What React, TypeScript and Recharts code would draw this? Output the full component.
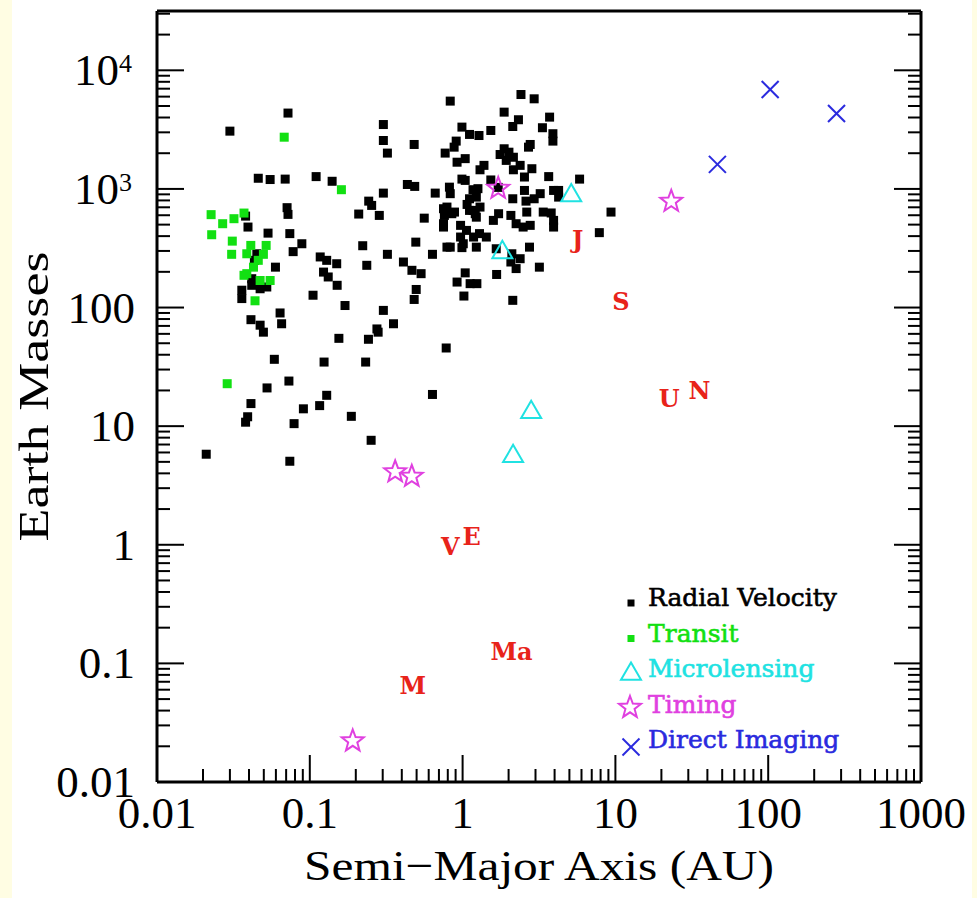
import { ScatterChart, Scatter, XAxis, YAxis, Legend } from 'recharts';

// semi-major axis (AU), mass (Earth masses)
const radialVelocity: [number, number][] = [
  [0.021, 5.8], [0.03, 3070], [0.072, 4360], [0.046, 1230], [0.055, 1200], [0.069, 1210],
  [0.11, 1270], [0.14, 1160], [0.243, 789], [0.254, 726], [0.209, 614], [0.285, 598],
  [0.038, 590], [0.0394, 477], [0.0533, 424], [0.071, 695], [0.072, 610], [0.074, 420],
  [0.0887, 345], [0.0778, 296], [0.0596, 219], [0.117, 267], [0.129, 250], [0.15, 234],
  [0.123, 199], [0.132, 181], [0.151, 154], [0.222, 332], [0.236, 227], [0.0359, 140],
  [0.0359, 119], [0.0417, 154], [0.0473, 144], [0.0523, 149], [0.0412, 79], [0.0473, 71],
  [0.0497, 62], [0.0639, 90], [0.0654, 73], [0.105, 127], [0.17, 104], [0.275, 66],
  [0.28, 62], [0.242, 54], [0.155, 55], [0.0586, 36.6], [0.124, 34.7], [0.232, 34.7],
  [0.0525, 21], [0.073, 24], [0.0412, 15.5], [0.0392, 12], [0.038, 10.8], [0.129, 18.2],
  [0.116, 14.9], [0.0908, 14], [0.0789, 10.5], [0.187, 12.1], [0.252, 7.6], [0.074, 5.06],
  [0.0434, 250], [0.0417, 175], [0.045, 284],
  [0.303, 3490], [0.303, 2560], [0.322, 2005], [0.482, 2370], [0.769, 2005], [0.435, 1090],
  [0.486, 1050], [0.303, 922], [0.662, 922], [0.561, 567], [0.75, 681], [0.76, 598],
  [0.75, 477], [0.79, 323], [0.494, 356], [0.322, 281], [0.635, 281], [0.41, 242],
  [0.466, 206], [0.535, 193], [0.497, 142], [0.482, 117], [0.303, 94.6], [0.353, 73],
  [0.781, 45.6], [0.635, 18.5],
  [0.83, 5500], [2.41, 6250], [2.94, 5750], [1.87, 4440], [2.32, 3830], [3.71, 4030],
  [2.13, 3360], [3.33, 3280], [3.9, 2920], [3.9, 2530], [0.99, 3320], [1.11, 2880],
  [1.28, 2820], [1.53, 3110], [0.908, 2530], [0.88, 2250], [0.92, 1680], [1.04, 1800],
  [1.87, 2180], [2.01, 2040], [2.15, 1850], [1.93, 1740], [1.76, 1950], [2.7, 2250],
  [2.77, 2370], [1.38, 1580], [1.3, 1450], [2.38, 1580], [2.15, 1450], [2.84, 1480],
  [2.54, 1260], [3.66, 1270], [0.99, 1210], [1.04, 1180], [1.53, 1190], [1.71, 1030],
  [0.82, 1035], [0.83, 912], [1.17, 985], [1.26, 1005], [1.11, 826], [1.23, 853],
  [2.54, 971], [3.22, 912], [3.94, 971], [2.13, 826], [2.6, 789], [2.94, 826],
  [0.79, 703], [0.885, 638], [1.07, 740], [1.11, 659], [1.21, 618], [1.3, 703],
  [1.72, 618], [2.07, 598], [2.63, 638], [3.37, 638], [3.8, 627],
  [0.85, 618], [0.75, 509], [0.97, 493], [1.17, 659], [1.23, 578], [1.06, 447],
  [0.97, 393], [1.18, 393], [1.29, 420], [1.43, 393], [1.01, 345], [1.23, 323],
  [0.83, 323], [1.59, 543], [2.24, 509], [2.49, 477], [2.77, 493], [3.94, 543],
  [3.94, 477], [1.66, 313], [2.1, 284], [2.38, 258], [2.24, 213], [2.07, 242],
  [2.74, 323], [3.18, 219], [1.67, 190], [1.04, 196], [0.92, 164], [1.12, 159],
  [1.24, 159], [1.02, 125], [2.13, 115], [0.99, 320],
  [5.83, 1210], [9.36, 638], [7.85, 428], [4.25, 971], [4.25, 853],
];

const transit: [number, number][] = [
  [0.068, 2730], [0.161, 985], [0.0226, 607], [0.0269, 509], [0.0319, 561], [0.0371, 626],
  [0.0228, 411], [0.0311, 363], [0.0308, 281], [0.0411, 334], [0.0387, 284], [0.0518, 334],
  [0.0497, 281], [0.046, 250], [0.0428, 219], [0.0387, 193], [0.0371, 187], [0.0473, 169],
  [0.055, 169], [0.0438, 114], [0.0288, 22.8],
];

const microlensing: [number, number][] = [[1.82, 292], [2.14, 5.57], [2.81, 13.1], [5.14, 880]];

const timing: [number, number][] = [[0.191, 0.0226], [0.362, 4.2], [0.465, 3.85], [1.71, 1030], [23.2, 800]];

const directImaging: [number, number][] = [[46.5, 1610], [103, 6890], [280, 4330]];

const planetNames = ['M', 'V', 'E', 'Ma', 'J', 'S', 'U', 'N'];
const planetA = [0.387, 0.723, 1.0, 1.524, 5.2, 9.54, 19.2, 30.1];
const planetMass = [0.0553, 0.815, 1.0, 0.107, 317.8, 95.2, 14.5, 17.1];

const xDecades = [0.01, 0.1, 1, 10, 100, 1000];
const yDecades = [0.01, 0.1, 1, 10, 100, 1000, 10000];
const xDomain = [0.01, 1000];
const yDomain = [0.01, 31623];

const C = {
  black: '#000000',
  green: '#12e012',
  cyan: '#20e2e2',
  magenta: '#e040e0',
  blue: '#2a2ade',
  red: '#e8231a',
};

const toPoints = (pairs: [number, number][]) => pairs.map(([a, m]) => ({ a, m }));
const planets = planetNames.map((name, i) => ({ name, a: planetA[i], m: planetMass[i] }));

// decades plus the 2..9 minor ticks between them, clipped to the domain
const withMinor = (decades: number[], max: number) => {
  const out: number[] = [];
  decades.forEach((d) => {
    out.push(d);
    for (let k = 2; k <= 9; k++) if (d * k <= max) out.push(d * k);
  });
  return out;
};
const xTicks = withMinor(xDecades, xDomain[1]);
const yTicks = withMinor(yDecades, yDomain[1]);

const isDecade = (v: number) => Math.abs(Math.log10(v) - Math.round(Math.log10(v))) < 1e-6;

const TICK_FONT = "'Liberation Serif', 'Times New Roman', serif";
const MAJOR = 27;
const MINOR = 13;

const xLabel = (v: number) => (v < 1 ? String(Number(v.toFixed(2))) : String(Math.round(v)));

const BottomTick = ({ x, y, payload }: any) => {
  const major = isDecade(payload.value);
  return (
    <g>
      <line x1={x} x2={x} y1={y} y2={y - (major ? MAJOR : MINOR)} stroke="#000" strokeWidth={2} />
      {major && (
        <text x={x} y={y + 46} textAnchor="middle" fontFamily={TICK_FONT} fontSize={45} fill="#000">
          {xLabel(payload.value)}
        </text>
      )}
    </g>
  );
};

const TopTick = ({ x, y, payload }: any) => {
  const major = isDecade(payload.value);
  return <line x1={x} x2={x} y1={y} y2={y + (major ? MAJOR : MINOR)} stroke="#000" strokeWidth={2} />;
};

const LeftTick = ({ x, y, payload }: any) => {
  const v = payload.value;
  const major = isDecade(v);
  let label: any = null;
  if (major) {
    const p = Math.round(Math.log10(v));
    label =
      p >= 3 ? (
        <text x={x - 25} y={y + 15} textAnchor="end" fontFamily={TICK_FONT} fontSize={45} fill="#000">
          10
          <tspan fontSize={26} dy={-13}>{p}</tspan>
        </text>
      ) : (
        <text x={x - 22} y={y + 15} textAnchor="end" fontFamily={TICK_FONT} fontSize={45} fill="#000">
          {xLabel(v)}
        </text>
      );
  }
  return (
    <g>
      <line x1={x} x2={x + (major ? MAJOR : MINOR)} y1={y} y2={y} stroke="#000" strokeWidth={2} />
      {label}
    </g>
  );
};

const RightTick = ({ x, y, payload }: any) => {
  const major = isDecade(payload.value);
  return <line x1={x} x2={x - (major ? MAJOR : MINOR)} y1={y} y2={y} stroke="#000" strokeWidth={2} />;
};

const square = (color: string, s: number) => (p: any) =>
  <rect x={p.cx - s / 2} y={p.cy - s / 2} width={s} height={s} fill={color} />;

const triangle = (p: any) => (
  <polygon
    points={`${p.cx},${p.cy - 11.5} ${p.cx - 10},${p.cy + 5.8} ${p.cx + 10},${p.cy + 5.8}`}
    fill="none"
    stroke={C.cyan}
    strokeWidth={2}
  />
);

const starPoints = (cx: number, cy: number, R: number, r: number) => {
  const pts: string[] = [];
  for (let i = 0; i < 10; i++) {
    const ang = -Math.PI / 2 + (i * Math.PI) / 5;
    const rad = i % 2 === 0 ? R : r;
    pts.push(`${(cx + rad * Math.cos(ang)).toFixed(2)},${(cy + rad * Math.sin(ang)).toFixed(2)}`);
  }
  return pts.join(' ');
};

const star = (p: any) => (
  <polygon points={starPoints(p.cx, p.cy + 1, 11.5, 4.8)} fill="none" stroke={C.magenta} strokeWidth={2} />
);

const cross = (p: any) => (
  <g stroke={C.blue} strokeWidth={2}>
    <line x1={p.cx - 8.5} y1={p.cy - 8.5} x2={p.cx + 8.5} y2={p.cy + 8.5} />
    <line x1={p.cx - 8.5} y1={p.cy + 8.5} x2={p.cx + 8.5} y2={p.cy - 8.5} />
  </g>
);

const LABEL_FONT = "'DejaVu Serif', serif";
const planetLabel = (p: any) => (
  <text x={p.cx} y={p.cy} fill={C.red} fontFamily={LABEL_FONT} fontWeight="bold" fontSize={24}>
    {p.payload.name}
  </text>
);

const legendRows = [
  { label: 'Radial Velocity', color: C.black, kind: 'rv' },
  { label: 'Transit', color: C.green, kind: 'tr' },
  { label: 'Microlensing', color: C.cyan, kind: 'ml' },
  { label: 'Timing', color: C.magenta, kind: 'tm' },
  { label: 'Direct Imaging', color: C.blue, kind: 'di' },
];

const LegendBox = () => (
  <svg width={250} height={180}>
    {legendRows.map((row, i) => {
      const base = 26 + i * 35.5;
      const mx = 16;
      let mark: any = null;
      if (row.kind === 'rv' || row.kind === 'tr') mark = square(row.color, 7)({ cx: mx, cy: base - 3 });
      else if (row.kind === 'ml') mark = triangle({ cx: mx, cy: base - 3 });
      else if (row.kind === 'tm') mark = star({ cx: mx - 1, cy: base - 6 });
      else mark = cross({ cx: mx, cy: base - 1 });
      return (
        <g key={row.label}>
          {mark}
          <text
            x={33}
            y={base}
            fill={row.color}
            stroke={row.color}
            strokeWidth={0.6}
            fontFamily={LABEL_FONT}
            fontSize={25}
          >
            {row.label}
          </text>
        </g>
      );
    })}
  </svg>
);

const TITLE_FONT = "'Liberation Serif', 'Times New Roman', serif";

export default function App() {
  return (
    <div style={{ position: 'absolute', left: 0, top: 0, width: 977, height: 898, background: '#fffde3' }}>
      <div style={{ position: 'absolute', left: 12, top: 0, width: 960, height: 898, background: '#ffffff' }} />
      <div style={{ position: 'absolute', left: 0, top: 0 }}>
        <ScatterChart width={977} height={898} margin={{ top: 0, right: 0, bottom: 0, left: 0 }}>
          <XAxis
            dataKey="a"
            type="number"
            scale="log"
            domain={xDomain}
            allowDataOverflow
            ticks={xTicks}
            interval={0}
            height={116}
            tickSize={0}
            tickMargin={0}
            tickLine={false}
            axisLine={{ stroke: '#000', strokeWidth: 3 }}
            tick={<BottomTick />}
            label={(props: any) => {
              const vb = props.viewBox;
              return (
                <text
                  x={vb.x + vb.width / 2 - 235}
                  y={880}
                  fontFamily={TITLE_FONT}
                  fontSize={43}
                  textLength={470}
                  lengthAdjust="spacingAndGlyphs"
                  fill="#000"
                >
                  Semi−Major Axis (AU)
                </text>
              );
            }}
          />
          <XAxis
            xAxisId="top"
            orientation="top"
            type="number"
            scale="log"
            domain={xDomain}
            allowDataOverflow
            ticks={xTicks}
            interval={0}
            height={11}
            tickSize={0}
            tickMargin={0}
            tickLine={false}
            axisLine={{ stroke: '#000', strokeWidth: 3 }}
            tick={<TopTick />}
          />
          <YAxis
            dataKey="m"
            type="number"
            scale="log"
            domain={yDomain}
            allowDataOverflow
            ticks={yTicks}
            interval={0}
            width={157}
            tickSize={0}
            tickMargin={0}
            tickLine={false}
            axisLine={{ stroke: '#000', strokeWidth: 3 }}
            tick={<LeftTick />}
            label={(props: any) => {
              const vb = props.viewBox;
              const cy = vb.y + vb.height / 2;
              return (
                <text
                  x={48}
                  y={cy + 145}
                  transform={`rotate(-90 48 ${cy + 145})`}
                  fontFamily={TITLE_FONT}
                  fontSize={43}
                  textLength={290}
                  lengthAdjust="spacingAndGlyphs"
                  fill="#000"
                >
                  Earth Masses
                </text>
              );
            }}
          />
          <YAxis
            yAxisId="right"
            orientation="right"
            type="number"
            scale="log"
            domain={yDomain}
            allowDataOverflow
            ticks={yTicks}
            interval={0}
            width={56}
            tickSize={0}
            tickMargin={0}
            tickLine={false}
            axisLine={{ stroke: '#000', strokeWidth: 3 }}
            tick={<RightTick />}
          />
          <Legend
            layout="vertical"
            align="center"
            verticalAlign="middle"
            content={() => <LegendBox />}
            wrapperStyle={{ left: 615, top: 580, width: 250, height: 180 }}
          />
          <Scatter name="Radial Velocity" data={toPoints(radialVelocity)} shape={square(C.black, 9)} isAnimationActive={false} />
          <Scatter name="Transit" data={toPoints(transit)} shape={square(C.green, 9)} isAnimationActive={false} />
          <Scatter name="Microlensing" data={toPoints(microlensing)} shape={triangle} isAnimationActive={false} />
          <Scatter name="Timing" data={toPoints(timing)} shape={star} isAnimationActive={false} />
          <Scatter name="Direct Imaging" data={toPoints(directImaging)} shape={cross} isAnimationActive={false} />
          <Scatter name="Solar System" data={planets} shape={planetLabel} isAnimationActive={false} />
        </ScatterChart>
      </div>
    </div>
  );
}
